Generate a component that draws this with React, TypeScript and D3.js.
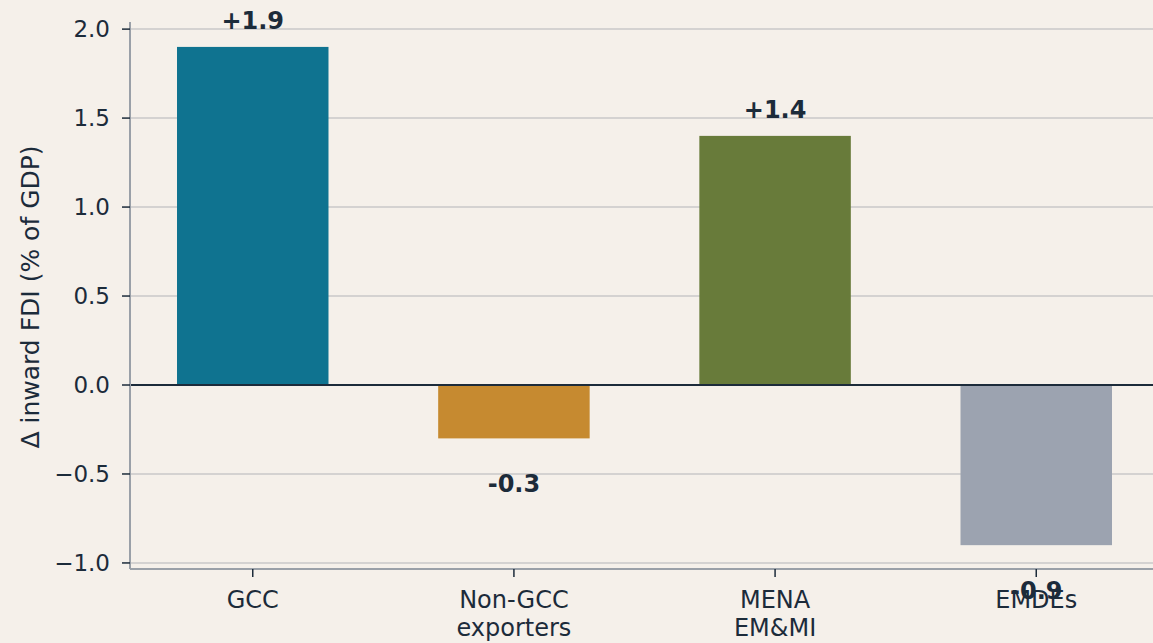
import React from 'react';
import { scaleLinear } from 'd3';

const categories = ['GCC', 'Non-GCC\nexporters', 'MENA\nEM&MI', 'EMDEs'];
const values = [1.9, -0.3, 1.4, -0.9];
const valueLabels = ['+1.9', '-0.3', '+1.4', '-0.9'];
const colors = ['#0f7390', '#c68a30', '#687b3a', '#9ca3b0'];
const yTicks = [-1.0, -0.5, 0.0, 0.5, 1.0, 1.5, 2.0];

const W = 1153;
const H = 643;
const FONT = "'DejaVu Sans', sans-serif";
const TEXT = '#1c2b3a';

export default function App() {
  const x = scaleLinear().domain([-0.47, 3.47]).range([130, 1159]);
  const y = scaleLinear().domain([-1.034, 2.04]).range([569, 22]);
  const bw = x(0.29) - x(-0.29);

  return (
    <svg width={W} height={H} style={{ position: 'absolute', left: 0, top: 0, background: '#f5f0ea' }}>
      <rect width={W} height={H} fill="#f5f0ea" />
      {/* grid */}
      {yTicks.map((t) => (
        <line key={'g' + t} x1={x(-0.47)} x2={W} y1={y(t)} y2={y(t)} stroke="#c9c9c9" strokeWidth={1.5} />
      ))}
      {/* bars */}
      {values.map((v, i) => (
        <rect key={i} x={x(i) - bw / 2} width={bw} y={y(Math.max(0, v))} height={Math.abs(y(v) - y(0))} fill={colors[i]} />
      ))}
      {/* zero line */}
      <line x1={x(-0.47)} x2={W} y1={y(0)} y2={y(0)} stroke="#1c2b3a" strokeWidth={2} />
      {/* spines */}
      <line x1={130} x2={130} y1={22} y2={569} stroke="#9aa0a8" strokeWidth={2} />
      <line x1={130} x2={W} y1={569} y2={569} stroke="#9aa0a8" strokeWidth={2} />
      {/* y ticks */}
      {yTicks.map((t) => (
        <g key={'t' + t}>
          <line x1={122} x2={130} y1={y(t)} y2={y(t)} stroke={TEXT} strokeWidth={1.5} />
          <text x={110} y={y(t)} dy="0.36em" textAnchor="end" fontFamily={FONT} fontSize={23} fill={TEXT}>
            {t < 0 ? '\u2212' + Math.abs(t).toFixed(1) : t.toFixed(1)}
          </text>
        </g>
      ))}
      {/* x ticks */}
      {categories.map((c, i) => (
        <g key={c}>
          <line x1={x(i)} x2={x(i)} y1={569} y2={577} stroke={TEXT} strokeWidth={1.5} />
          {c.split('\n').map((ln, j) => (
            <text key={j} x={x(i)} y={608 + j * 28} textAnchor="middle" fontFamily={FONT} fontSize={24} fill={TEXT}>
              {ln}
            </text>
          ))}
        </g>
      ))}
      {/* value labels */}
      {values.map((v, i) => (
        <text
          key={'v' + i}
          x={x(i)}
          y={v >= 0 ? y(v) - 18 : y(v) + 54}
          textAnchor="middle"
          fontFamily={FONT}
          fontSize={24}
          fontWeight="bold"
          fill={TEXT}
        >
          {valueLabels[i]}
        </text>
      ))}
      {/* y label */}
      <text
        transform={`translate(39,${297}) rotate(-90)`}
        textAnchor="middle"
        fontFamily={FONT}
        fontSize={25}
        fill={TEXT}
      >
        Δ inward FDI (% of GDP)
      </text>
    </svg>
  );
}
